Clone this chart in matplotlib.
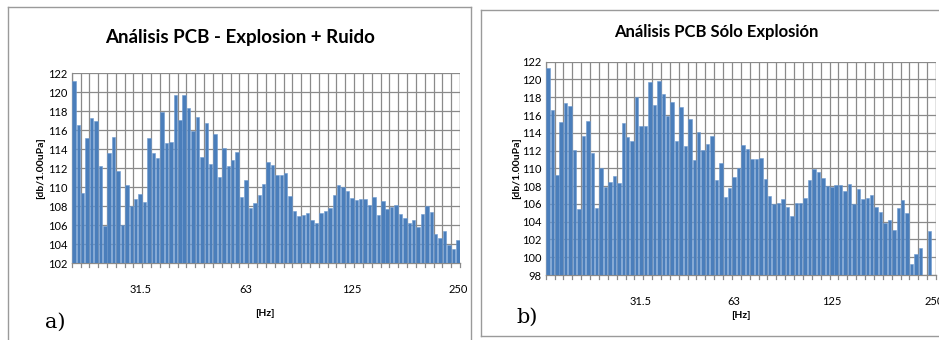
import numpy as np
import matplotlib.pyplot as plt
from matplotlib.lines import Line2D

# --- Niveles por banda (1/24 octava), dB re 1 uPa ---
ruido_db = [121.2, 116.6, 109.4, 115.2, 117.3, 117.0, 112.2, 105.9, 113.6, 115.3,
            111.7, 106.0, 110.2, 108.0, 108.8, 109.3, 108.5, 115.2, 113.6, 113.1,
            117.9, 114.7, 114.8, 119.7, 117.1, 119.7, 118.3, 115.9, 117.4, 113.2,
            116.8, 112.5, 115.6, 111.1, 114.1, 112.2, 112.9, 113.7, 109.0, 110.8,
            107.8, 108.3, 109.2, 110.3, 112.7, 112.4, 111.3, 111.3, 111.5, 109.1,
            107.5, 107.0, 107.1, 107.3, 106.6, 106.2, 107.3, 107.5, 107.8, 109.2,
            110.2, 110.0, 109.6, 108.9, 108.7, 108.8, 108.8, 108.1, 109.0, 107.1,
            108.6, 107.7, 107.9, 108.1, 107.2, 106.8, 106.2, 106.6, 105.8, 107.2,
            108.0, 107.4, 105.1, 104.7, 105.4, 103.9, 103.5, 104.5]

# bandas sin dato quedan como nan
explosion_db = [121.25, 116.6, 109.25, 115.25, 117.3, 117.0, 112.1, 105.4, 113.6, 115.3,
                111.7, 105.5, 110.0, 107.9, 108.5, 109.1, 108.35, 115.1, 113.5, 113.1,
                118.0, 114.8, 114.8, 119.75, 117.1, 119.8, 118.4, 115.9, 117.5, 113.1,
                116.9, 112.5, 115.6, 110.9, 114.1, 112.1, 112.7, 113.6, 108.7, 110.6,
                106.8, 107.8, 109.0, 110.0, 112.6, 112.2, 111.1, 111.1, 111.2, 108.8,
                106.9, 106.0, 106.1, 106.5, 105.6, 104.6, 106.1, 106.1, 106.7, 108.7,
                109.9, 109.6, 108.9, 108.0, 107.9, 108.1, 108.1, 107.4, 108.2, 106.0,
                107.7, 106.5, 106.7, 107.0, 105.7, 105.1, 103.9, 104.2, 103.1, 105.5,
                106.4, 105.0, 99.2, 100.4, 101.0, np.nan, 102.9, np.nan]

etiquetas_hz = ["31.5", "63", "125", "250"]
pos_izq = [15, 39, 63, 87]
pos_der = [21, 42, 64, 87]

W, H = 939, 340
fig = plt.figure(figsize=(W / 100, H / 100), dpi=100)
fig.patch.set_facecolor("white")

plt.rcParams["font.family"] = ["Lato", "DejaVu Sans"]

def caja(px):
    # px: (x0, y_top, x1, y_bottom) en pixeles -> fraccion de figura
    x0, yt, x1, yb = px
    return [x0 / W, 1 - yb / H, (x1 - x0) / W, (yb - yt) / H]

def dibujar(ax, datos, ymin, ymax, pos_ticks):
    n = len(datos)
    x = np.arange(n)
    ax.bar(x, datos, width=0.78, bottom=0, color="#4a7ebb",
           edgecolor="#6f9bd0", linewidth=0.4, zorder=3)
    ax.set_xlim(-0.5, n - 0.5)
    ax.set_ylim(ymin, ymax)
    ax.set_yticks(np.arange(ymin, ymax + 1, 2))
    ax.tick_params(axis="y", length=0, labelsize=8, pad=3)
    # rejilla vertical cada 2 bandas
    for b in np.arange(-0.5, n, 2):
        ax.axvline(b, color="#8a8a8a", linewidth=0.9, zorder=1)
        ax.plot([b, b], [0, -0.018], transform=ax.get_xaxis_transform(),
                color="#8a8a8a", linewidth=0.9, clip_on=False)
    ax.axvline(n - 0.5, color="#8a8a8a", linewidth=0.9, zorder=1)
    ax.yaxis.grid(True, color="#8a8a8a", linewidth=0.9, zorder=1)
    ax.set_axisbelow(True)
    ax.set_xticks(pos_ticks)
    ax.set_xticklabels(etiquetas_hz)
    ax.tick_params(axis="x", length=0, labelsize=8, pad=15)
    for s in ["top", "right"]:
        ax.spines[s].set_visible(False)
    for s in ["left", "bottom"]:
        ax.spines[s].set_color("#8a8a8a")
        ax.spines[s].set_linewidth(0.9)

# --- a) explosion + ruido ---
ax1 = fig.add_axes(caja((71.7, 73.3, 460, 263.3)))
dibujar(ax1, ruido_db, 102, 122, pos_izq)

# --- b) solo explosion ---
ax2 = fig.add_axes(caja((545.7, 61.7, 936, 275)))
dibujar(ax2, explosion_db, 98, 122, pos_der)

# marcos de cada panel
gris = "#9a9a9a"
for xs, ys in [([8, 8], [7, 340]), ([8, 471], [7, 7]), ([471, 471], [7, 340]),
               ([481, 481], [10, 336]), ([481, 939], [10, 10]), ([481, 939], [336, 336])]:
    fig.add_artist(Line2D([x / W for x in xs], [1 - y / H for y in ys],
                          color=gris, linewidth=1.0))

# titulos y etiquetas
fig.text(240 / W, 1 - 38 / H, "Análisis PCB - Explosion + Ruido",
         ha="center", va="center", fontsize=13.5, fontweight="bold")
fig.text(716 / W, 1 - 32 / H, "Análisis PCB Sólo Explosión",
         ha="center", va="center", fontsize=12, fontweight="bold")
fig.text(41 / W, 1 - 168 / H, "[db/1.00uPa]", rotation=90,
         ha="center", va="center", fontsize=7.5, fontweight="bold")
fig.text(517 / W, 1 - 168 / H, "[db/1.00uPa]", rotation=90,
         ha="center", va="center", fontsize=7.5, fontweight="bold")
fig.text(265 / W, 1 - 313 / H, "[Hz]", ha="center", va="center",
         fontsize=7.5, fontweight="bold")
fig.text(741 / W, 1 - 316 / H, "[Hz]", ha="center", va="center",
         fontsize=7.5, fontweight="bold")
fig.text(55 / W, 1 - 322 / H, "a)", ha="center", va="center", fontsize=15,
         family=["DejaVu Serif"])
fig.text(527 / W, 1 - 317 / H, "b)", ha="center", va="center", fontsize=15,
         family=["DejaVu Serif"])

fig.savefig("out.png", dpi=100)
